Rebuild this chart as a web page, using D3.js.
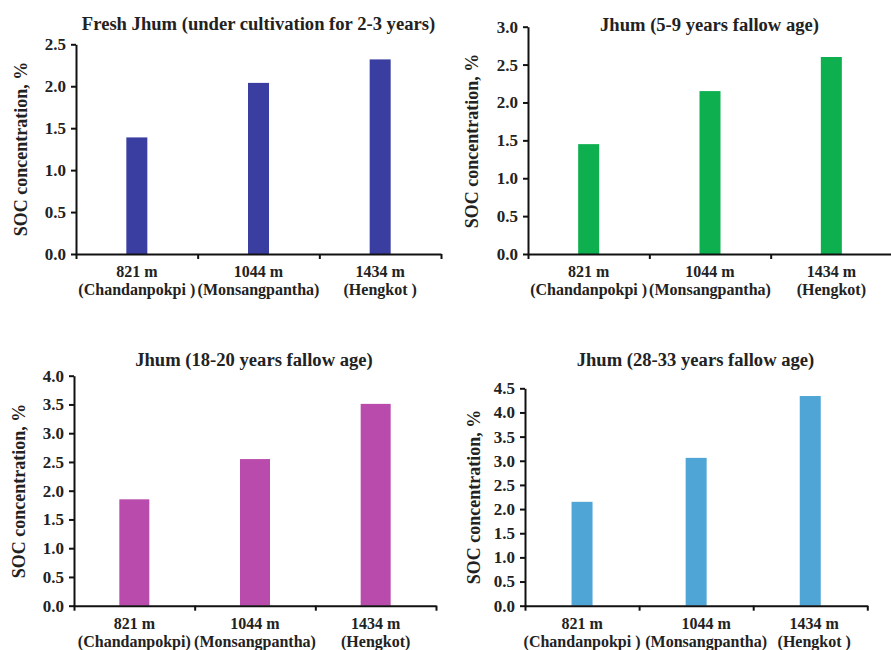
<!DOCTYPE html>
<html>
<head>
<meta charset="utf-8">
<script src="https://cdn.jsdelivr.net/npm/d3@7"></script>
<style>
  body { margin: 0; background: #fff; }
  svg text { font-family: 'Liberation Serif', 'Times New Roman', serif; font-weight: bold; fill: #222; }
  .domain, .tick line { stroke: #111; stroke-width: 2px; }
</style>
</head>
<body>
<div id="chart"></div>
<script>
// elevations (first label line)
var elevations = ['821 m', '1044 m', '1434 m'];

// village names (second label line), as printed in each panel
var sitesFresh = ['(Chandanpokpi )', '(Monsangpantha)', '(Hengkot )'];
var sites5to9 = ['(Chandanpokpi )', '(Monsangpantha)', '(Hengkot)'];
var sites18to20 = ['(Chandanpokpi)', '(Monsangpantha)', '(Hengkot)'];
var sites28to33 = ['(Chandanpokpi )', '(Monsangpantha)', '(Hengkot )'];

// SOC concentration, %
var socFresh = [1.39, 2.04, 2.32];
var soc5to9 = [1.45, 2.15, 2.60];
var soc18to20 = [1.85, 2.55, 3.51];
var soc28to33 = [2.15, 3.06, 4.34];

var titles = [
  'Fresh Jhum (under cultivation for 2-3 years)',
  'Jhum (5-9 years fallow age)',
  'Jhum (18-20 years fallow age)',
  'Jhum (28-33 years fallow age)',
];
var yMaxes = [2.5, 3.0, 4.0, 4.5];
var yLabel = 'SOC concentration, %';

var width = 891;
var height = 650;

var panels = [
  { title: titles[0], values: socFresh, sites: sitesFresh, yMax: yMaxes[0], color: '#3a3ea0',
    x0: 76, x1: 441, y0: 44.3, y1: 254, barW: 21, titleX: 258.5, titleY: 30, labX: 21, labY: 149,
    labShift: [0, 0, 0] },
  { title: titles[1], values: soc5to9, sites: sites5to9, yMax: yMaxes[1], color: '#0daf4f',
    x0: 528, x1: 892, y0: 26.7, y1: 254, barW: 21, titleX: 709.5, titleY: 31, labX: 472, labY: 141,
    labShift: [0, 0, 0] },
  { title: titles[2], values: soc18to20, sites: sites18to20, yMax: yMaxes[2], color: '#b94bad',
    x0: 74, x1: 436, y0: 375.7, y1: 605.7, barW: 30, titleX: 254, titleY: 365.5, labX: 18.5, labY: 491,
    labShift: [0, 0, 0] },
  { title: titles[3], values: soc28to33, sites: sites28to33, yMax: yMaxes[3], color: '#4fa5d5',
    x0: 525, x1: 867.3, y0: 388.3, y1: 605.7, barW: 21, titleX: 695.5, titleY: 365.5, labX: 473.5, labY: 497,
    labShift: [0, 10, 4] },
];

var svg = d3.select('#chart')
  .append('svg')
  .attr('width', width)
  .attr('height', height);

var renderPanel = function (p) {
  var g = svg.append('g');

  var x = d3.scaleBand()
    .domain(elevations)
    .range([p.x0, p.x1])
    .paddingInner(0)
    .paddingOuter(0);

  // boundaries between categories, for the x-axis ticks
  var xEdge = d3.scaleLinear()
    .domain([0, elevations.length])
    .range([p.x0, p.x1]);

  var y = d3.scaleLinear()
    .domain([0, p.yMax])
    .range([p.y1, p.y0]);

  // bars
  g.selectAll('.bar')
    .data(p.values)
    .enter()
    .append('rect')
    .attr('class', 'bar')
    .attr('x', (d, i) => x(elevations[i]) + x.bandwidth() / 2 - p.barW / 2)
    .attr('width', p.barW)
    .attr('y', d => y(d))
    .attr('height', d => y(0) - y(d))
    .attr('fill', p.color);

  // y axis
  var yAxis = g.append('g')
    .attr('transform', `translate(${p.x0},0)`)
    .call(
      d3.axisLeft(y)
        .tickValues(d3.range(0, p.yMax + 0.01, 0.5))
        .tickFormat(d3.format('.1f'))
        .tickSize(5)
        .tickSizeOuter(0)
        .tickPadding(5)
    );
  yAxis.selectAll('text').style('font-size', '17px').attr('fill', '#222');

  // x axis
  g.append('g')
    .attr('transform', `translate(0,${p.y1})`)
    .call(
      d3.axisBottom(xEdge)
        .tickValues(d3.range(0, elevations.length + 1))
        .tickFormat('')
        .tickSize(5)
        .tickSizeOuter(0)
    );

  // category labels (excel nudges some of them sideways)
  var labelX = (d, i) => x(d) + x.bandwidth() / 2 + p.labShift[i];

  var labels = g.selectAll('.cat')
    .data(elevations)
    .enter()
    .append('text')
    .attr('class', 'cat')
    .attr('text-anchor', 'middle')
    .style('font-size', '16px');

  labels.append('tspan')
    .attr('x', labelX)
    .attr('y', p.y1 + 23)
    .text(d => d);

  labels.append('tspan')
    .attr('x', labelX)
    .attr('y', p.y1 + 41)
    .text((d, i) => p.sites[i]);

  // title
  g.append('text')
    .attr('x', p.titleX)
    .attr('y', p.titleY)
    .attr('text-anchor', 'middle')
    .style('font-size', '18.6px')
    .text(p.title);

  // y label
  g.append('text')
    .attr('transform', `translate(${p.labX},${p.labY}) rotate(-90)`)
    .attr('text-anchor', 'middle')
    .attr('dy', '0.35em')
    .style('font-size', '18px')
    .text(yLabel);
};

panels.forEach(renderPanel);
</script>
</body>
</html>
